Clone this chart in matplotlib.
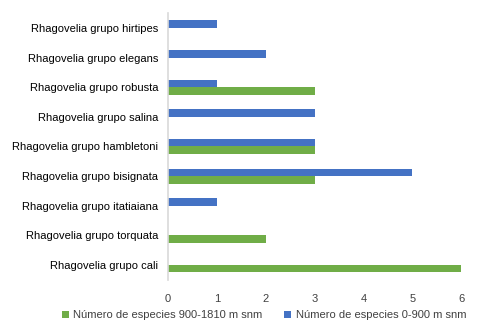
import numpy as np
import matplotlib
matplotlib.use('Agg')
from matplotlib import pyplot as plt

# categories listed bottom to top
grupos = ['Rhagovelia grupo cali', 'Rhagovelia grupo torquata', 'Rhagovelia grupo itatiaiana',
          'Rhagovelia grupo bisignata', 'Rhagovelia grupo hambletoni', 'Rhagovelia grupo salina',
          'Rhagovelia grupo robusta', 'Rhagovelia grupo elegans', 'Rhagovelia grupo hirtipes']
alta = [6, 2, 0, 3, 3, 0, 3, 0, 0]   # 900-1810 m snm
baja = [0, 0, 1, 5, 3, 3, 1, 2, 1]   # 0-900 m snm
etiq_alta = 'Número de especies 900-1810 m snm'
etiq_baja = 'Número de especies 0-900 m snm'

plt.rcParams['font.family'] = ['Liberation Sans', 'DejaVu Sans']

fig = plt.figure(figsize=(4.87, 3.34), dpi=100)
ax = fig.add_axes([0.345, 0.162, 0.602, 0.799])

y = np.arange(len(grupos))
h = 0.25
ax.barh(y - h / 2, alta, height=h, color='#70AD47', label=etiq_alta)
ax.barh(y + h / 2, baja, height=h, color='#4472C4', label=etiq_baja)

ax.set_xlim(0, 6)
ax.set_ylim(-0.5, len(grupos) - 0.5)
ax.set_xticks(range(7))
ax.set_yticks(y)
ax.set_yticklabels(grupos)
ax.tick_params(axis='x', length=0, pad=10, labelsize=8, labelcolor='#404040')
ax.tick_params(axis='y', length=0, pad=7, labelsize=8, labelcolor='#000000')

for s in ['top', 'right', 'bottom']:
    ax.spines[s].set_visible(False)
ax.spines['left'].set_color('#D9D9D9')
ax.spines['left'].set_linewidth(1.2)

ax.legend(loc='center', bbox_to_anchor=(0.542, 0.057), bbox_transform=fig.transFigure,
          ncol=2, frameon=False, fontsize=8, handlelength=0.6, handleheight=0.6,
          handletextpad=0.4, columnspacing=2.0, labelcolor='#404040')

fig.savefig('out.png', dpi=100)
